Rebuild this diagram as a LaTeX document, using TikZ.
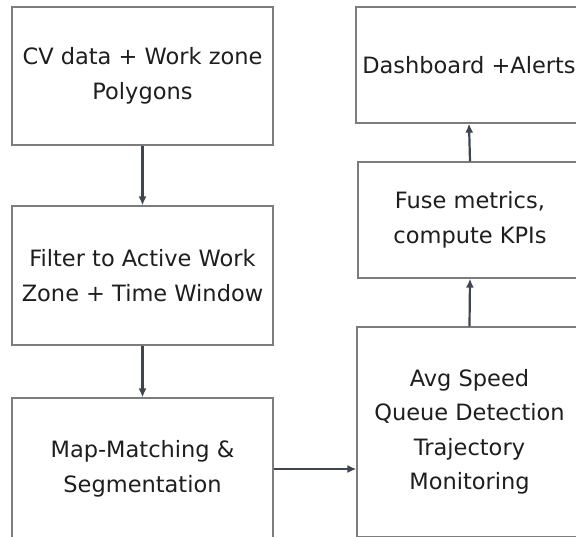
\documentclass[tikz,border=0pt]{standalone}
\usepackage{fontspec}
\setmainfont{DejaVu Sans}
\usetikzlibrary{arrows.meta}
\definecolor{boxline}{HTML}{7C7C7C}
\definecolor{arrowc}{HTML}{3E4450}
\definecolor{txt}{HTML}{1E1E1E}
\tikzset{
  flowbox/.style={draw=boxline, line width=1.2pt, fill=white, text=txt, align=center,
    inner sep=0pt, font=\fontsize{22.5}{34.5}\selectfont},
  flowarrow/.style={draw=arrowc, line width=2.2pt, -{Latex[length=9pt,width=8pt]}}
}
\begin{document}
\begin{tikzpicture}[x=1pt,y=-1pt]
\useasboundingbox (0,0) rectangle (576,536);
\clip (0,0) rectangle (576,536);
\node[flowbox, minimum width=261pt, minimum height=138pt] (cv) at (142.5,76) {CV data + Work zone\\Polygons};
\node[flowbox, minimum width=261pt, minimum height=139pt] (filter) at (142.5,275.5) {Filter to Active Work\\Zone + Time Window};
\node[flowbox, minimum width=261pt, minimum height=142pt] (map) at (142.5,469) {Map-Matching \&\\Segmentation};
\node[flowbox, minimum width=225pt, minimum height=210pt] (avg) at (469.5,432) {Avg Speed\\Queue Detection\\Trajectory\\Monitoring};
\node[flowbox, minimum width=224pt, minimum height=116pt] (fuse) at (470,220) {Fuse metrics,\\compute KPIs};
\node[flowbox, minimum width=226pt, minimum height=116pt] (dash) at (469,65) {Dashboard +Alerts};
\draw[flowarrow] (cv.south) -- (filter.north);
\draw[flowarrow] (filter.south) -- (map.north);
\draw[flowarrow] (map.east) -- (avg.west |- map.east);
\draw[flowarrow] (avg.north) -- (fuse.south);
\draw[flowarrow] (fuse.north) -- (dash.south);
\end{tikzpicture}
\end{document}
